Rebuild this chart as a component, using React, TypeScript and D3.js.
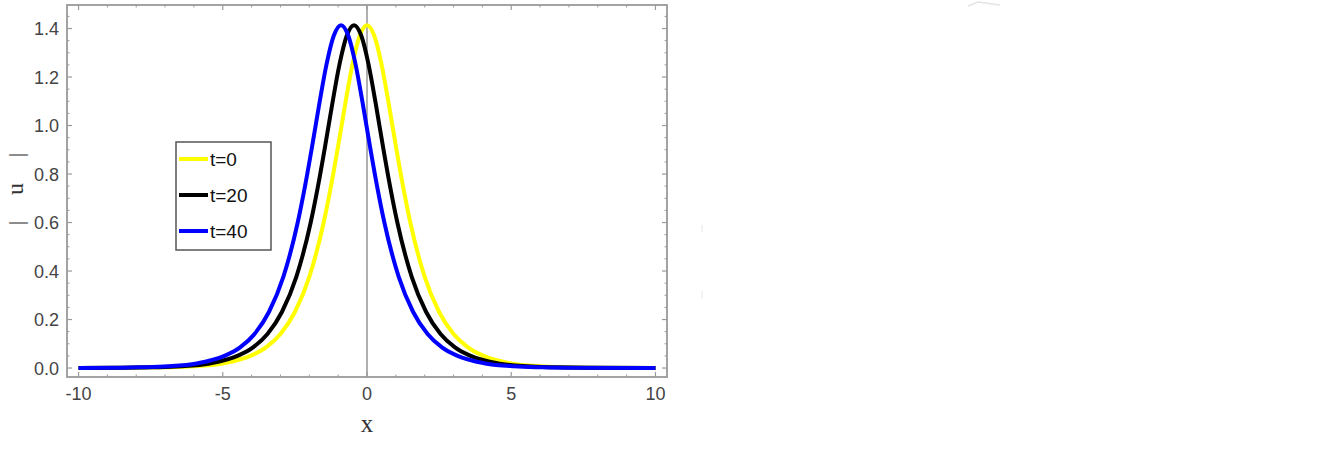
import React from "react";
import * as d3 from "d3";

const seriesLabels = ["t=0", "t=20", "t=40"];
const seriesColors = ["#ffff00", "#000000", "#0000ff"];

const xT0 = [-10, -8, -7, -6, -5, -4, -3.5, -3, -2.5, -2, -1.5, -1.25, -1, -0.75, -0.5, -0.25, 0, 0.25, 0.5, 0.75, 1, 1.25, 1.5, 2, 2.5, 3, 3.5, 4, 5, 6, 7, 8, 10];
const xT20 = [-10, -8.45, -7.45, -6.45, -5.45, -4.45, -3.95, -3.45, -2.95, -2.45, -1.95, -1.7, -1.45, -1.2, -0.95, -0.7, -0.45, -0.2, 0.05, 0.3, 0.55, 0.8, 1.05, 1.55, 2.05, 2.55, 3.05, 3.55, 4.55, 5.55, 6.55, 7.55, 10];
const xT40 = [-10, -8.9, -7.9, -6.9, -5.9, -4.9, -4.4, -3.9, -3.4, -2.9, -2.4, -2.15, -1.9, -1.65, -1.4, -1.15, -0.9, -0.65, -0.4, -0.15, 0.1, 0.35, 0.6, 1.1, 1.6, 2.1, 2.6, 3.1, 4.1, 5.1, 6.1, 7.1, 10];

const uT0 = [0.0, 0.001, 0.003, 0.007, 0.019, 0.052, 0.085, 0.14, 0.231, 0.376, 0.601, 0.749, 0.916, 1.092, 1.254, 1.371, 1.414, 1.371, 1.254, 1.092, 0.916, 0.749, 0.601, 0.376, 0.231, 0.14, 0.085, 0.052, 0.019, 0.007, 0.003, 0.001, 0.0];
const uT20 = [0.0, 0.001, 0.003, 0.007, 0.019, 0.052, 0.085, 0.14, 0.231, 0.376, 0.601, 0.749, 0.916, 1.092, 1.254, 1.371, 1.414, 1.371, 1.254, 1.092, 0.916, 0.749, 0.601, 0.376, 0.231, 0.14, 0.085, 0.052, 0.019, 0.007, 0.003, 0.001, 0.0];
const uT40 = [0.0, 0.001, 0.003, 0.007, 0.019, 0.052, 0.085, 0.14, 0.231, 0.376, 0.601, 0.749, 0.916, 1.092, 1.254, 1.371, 1.414, 1.371, 1.254, 1.092, 0.916, 0.749, 0.601, 0.376, 0.231, 0.14, 0.085, 0.052, 0.019, 0.007, 0.003, 0.001, 0.0];

const xMajorTicks = [-10, -5, 0, 5, 10];
const xTickLabels = ["-10", "-5", "0", "5", "10"];
const yMajorTicks = [0, 0.2, 0.4, 0.6, 0.8, 1.0, 1.2, 1.4];
const yTickLabels = ["0.0", "0.2", "0.4", "0.6", "0.8", "1.0", "1.2", "1.4"];

const W = 1320;
const H = 473;
const L = 67, R = 667, T = 5, B = 377;

export default function App() {
  const x = d3.scaleLinear().domain([-10.4, 10.4]).range([L, R]);
  const y = d3.scaleLinear().domain([-0.037, 1.497]).range([B, T]);
  const xs = [xT0, xT20, xT40];
  const us = [uT0, uT20, uT40];
  const line = d3
    .line<[number, number]>()
    .x((d) => x(d[0]))
    .y((d) => y(d[1]))
    .curve(d3.curveMonotoneX);

  const xMinor = d3.range(-10, 11, 1).filter((v) => !xMajorTicks.includes(v));
  const yMinor = d3.range(0, 30).map((i) => i * 0.05).filter((v) => v < 1.48 && !yMajorTicks.some((m) => Math.abs(m - v) < 1e-6));
  const frameColor = "#9a9a9a";
  const sans = "Liberation Sans, Arial, sans-serif";
  const serif = "Liberation Serif, Times New Roman, serif";

  return (
    <svg width={W} height={H} style={{ position: "fixed", left: 0, top: 0, background: "#fff" }}>
      <rect x={0} y={0} width={W} height={H} fill="#fff" />
      <line x1={x(0)} x2={x(0)} y1={T} y2={B} stroke="#b0b0b0" strokeWidth={2} />
      <rect x={L} y={T} width={R - L} height={B - T} fill="none" stroke={frameColor} strokeWidth={1.8} />
      {xMajorTicks.map((v) => (
        <g key={"xM" + v}>
          <line x1={x(v)} x2={x(v)} y1={B} y2={B - 5} stroke={frameColor} strokeWidth={1.2} />
          <line x1={x(v)} x2={x(v)} y1={T} y2={T + 5} stroke={frameColor} strokeWidth={1.2} />
        </g>
      ))}
      {xMinor.map((v) => (
        <g key={"xm" + v}>
          <line x1={x(v)} x2={x(v)} y1={B} y2={B - 2.5} stroke={frameColor} strokeWidth={1} />
          <line x1={x(v)} x2={x(v)} y1={T} y2={T + 2.5} stroke={frameColor} strokeWidth={1} />
        </g>
      ))}
      {yMajorTicks.map((v) => (
        <g key={"yM" + v}>
          <line x1={L} x2={L + 5} y1={y(v)} y2={y(v)} stroke={frameColor} strokeWidth={1.2} />
          <line x1={R} x2={R - 5} y1={y(v)} y2={y(v)} stroke={frameColor} strokeWidth={1.2} />
        </g>
      ))}
      {yMinor.map((v) => (
        <g key={"ym" + v}>
          <line x1={L} x2={L + 2.5} y1={y(v)} y2={y(v)} stroke={frameColor} strokeWidth={1} />
          <line x1={R} x2={R - 2.5} y1={y(v)} y2={y(v)} stroke={frameColor} strokeWidth={1} />
        </g>
      ))}
      {xMajorTicks.map((v, i) => (
        <text key={"xl" + v} x={x(v)} y={400} textAnchor="middle" fontFamily={sans} fontSize={18} fill="#444">
          {xTickLabels[i]}
        </text>
      ))}
      {yMajorTicks.map((v, i) => (
        <text key={"yl" + v} x={59} y={y(v) + 6.5} textAnchor="end" fontFamily={sans} fontSize={18} fill="#444">
          {yTickLabels[i]}
        </text>
      ))}
      <text x={367} y={432} textAnchor="middle" fontFamily={serif} fontSize={25} fill="#333">
        x
      </text>
      <g transform="translate(23,189) rotate(-90)">
        <text x={-34} y={0} textAnchor="middle" fontFamily={serif} fontSize={22} fill="#333">|</text>
        <text x={0} y={0} textAnchor="middle" fontFamily={serif} fontSize={24} fill="#333">u</text>
        <text x={34} y={0} textAnchor="middle" fontFamily={serif} fontSize={22} fill="#333">|</text>
      </g>
      {us.map((u, si) => (
        <path
          key={"s" + si}
          d={line(xs[si].map((xv, j) => [xv, u[j]] as [number, number])) || ""}
          fill="none"
          stroke={seriesColors[si]}
          strokeWidth={4}
          strokeLinejoin="round"
        />
      ))}
      <rect x={176} y={142} width={95} height={108} fill="#fff" stroke="#555" strokeWidth={1.5} />
      {seriesLabels.map((lab, i) => (
        <g key={"lg" + i} transform={`translate(0,${159 + i * 36})`}>
          <line x1={179} x2={208} y1={0} y2={0} stroke={seriesColors[i]} strokeWidth={4} />
          <text x={210} y={7} fontFamily={sans} fontSize={19} fill="#111">
            {lab}
          </text>
        </g>
      ))}
      <path d="M968,6 L978,2 L1000,5" fill="none" stroke="#e4e4e4" strokeWidth={1.5} />
      <line x1={702} x2={702} y1={225} y2={232} stroke="#e6e6e6" strokeWidth={1} />
      <line x1={702} x2={702} y1={291} y2={298} stroke="#e6e6e6" strokeWidth={1} />
    </svg>
  );
}
